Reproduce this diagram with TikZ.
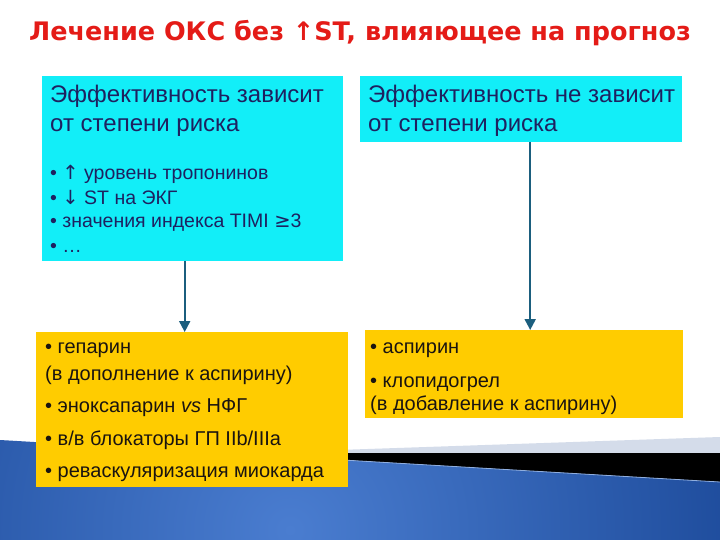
\documentclass[tikz,border=0pt]{standalone}
\usepackage{fontspec}
\setmainfont{Liberation Sans}
\newfontfamily\titlefont{DejaVu Sans}
\newfontfamily\symf{DejaVu Sans}
\usetikzlibrary{arrows.meta}
\definecolor{cyanbox}{HTML}{12EEF8}
\definecolor{yelbox}{HTML}{FFCC00}
\definecolor{arrowc}{HTML}{1B5E7E}
\definecolor{titlered}{HTML}{E41B17}
\definecolor{navytxt}{HTML}{1E2160}
\definecolor{darktxt}{HTML}{1A1410}
\definecolor{lightband}{HTML}{D4DCEA}
\definecolor{bluein}{HTML}{4A7DD0}
\definecolor{blueout}{HTML}{0B3786}
\definecolor{blueedge}{HTML}{8FAEDF}
\begin{document}
\begin{tikzpicture}[x=1pt,y=-1pt,
  cbox/.style={fill=cyanbox, draw=none, inner sep=0pt, anchor=north west},
  ybox/.style={fill=yelbox, draw=none, inner sep=0pt, anchor=north west},
  bigtxt/.style={anchor=base west, inner sep=0pt, text=navytxt, font=\fontsize{24}{28}\selectfont},
  smtxt/.style={anchor=base west, inner sep=0pt, text=navytxt, font=\fontsize{19.5}{23}\selectfont},
  ytxt/.style={anchor=base west, inner sep=0pt, text=darktxt, font=\fontsize{20}{24}\selectfont},
  flow/.style={draw=arrowc, line width=2pt, -{Triangle[length=11pt,width=11pt]}}
]
\useasboundingbox (0,0) rectangle (720,540);
\fill[white] (0,0) rectangle (720,540);
% background decoration
\fill[lightband] (250,453) -- (720,437) -- (720,453) -- cycle;
\fill[black] (223,453) -- (720,453) -- (720,482) -- cycle;
\begin{scope}
  \clip (0,440) -- (720,482) -- (720,540) -- (0,540) -- cycle;
  \shade[inner color=bluein, outer color=blueout] (290,530) circle (640pt);
\end{scope}
\draw[blueedge, line width=0.8pt] (223,453) -- (720,482);

% title
\node[anchor=base, inner sep=0pt, text=titlered, font=\titlefont\bfseries\fontsize{25.5}{30}\selectfont] (title) at (360,41)
  {Лечение ОКС без ↑ST, влияющее на прогноз};

% boxes
\node[cbox, minimum width=301pt, minimum height=185pt] (c1) at (42,76) {};
\node[cbox, minimum width=322pt, minimum height=66pt] (c2) at (360,76) {};
\node[ybox, minimum width=312pt, minimum height=155pt] (y1) at (36,332) {};
\node[ybox, minimum width=318pt, minimum height=88pt] (y2) at (365,330) {};

% texts in cyan boxes
\node[bigtxt] (c1a) at (50,103) {Эффективность зависит};
\node[bigtxt] (c1b) at (50,132) {от степени риска};
\node[smtxt] (c1c) at (50,180) {• {\symf ↑} уровень тропонинов};
\node[smtxt] (c1d) at (50,205) {• {\symf ↓} ST на ЭКГ};
\node[smtxt] (c1e) at (50,228) {• значения индекса TIMI {\symf ≥}3};
\node[smtxt] (c1f) at (50,252) {• …};
\node[bigtxt] (c2a) at (368,103) {Эффективность не зависит};
\node[bigtxt] (c2b) at (368,132) {от степени риска};

% texts in yellow boxes
\node[ytxt] (y1a) at (45,353) {• гепарин};
\node[ytxt] (y1b) at (45,380) {(в дополнение к аспирину)};
\node[ytxt] (y1c) at (45,412) {• эноксапарин \textit{vs} НФГ};
\node[ytxt] (y1d) at (45,445) {• в/в блокаторы ГП IIb/IIIa};
\node[ytxt] (y1e) at (45,477) {• реваскуляризация миокарда};
\node[ytxt] (y2a) at (370,353) {• аспирин};
\node[ytxt] (y2b) at (370,387) {• клопидогрел};
\node[ytxt] (y2c) at (370,410) {(в добавление к аспирину)};

% connectors
\draw[flow] ([xshift=-8pt]c1.south) -- ([xshift=-8pt]c1.south |- y1.north);
\draw[flow] ([xshift=9pt]c2.south) -- ([xshift=9pt]c2.south |- y2.north);
\end{tikzpicture}
\end{document}
